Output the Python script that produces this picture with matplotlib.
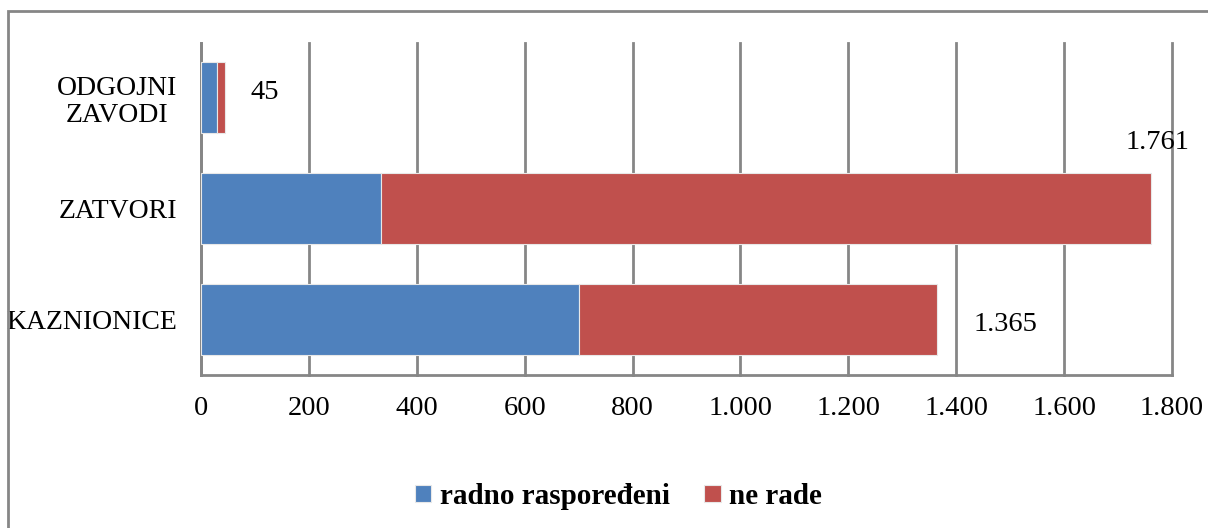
import matplotlib
matplotlib.use("Agg")
import matplotlib.pyplot as plt
from matplotlib.patches import Rectangle
from matplotlib.ticker import FuncFormatter

categories = ["KAZNIONICE", "ZATVORI", "ODGOJNI\nZAVODI"]
radno = [700, 333, 30]
ne_rade = [665, 1428, 15]
totals = [1365, 1761, 45]
series_names = ["radno raspoređeni", "ne rade"]

plt.rcParams["font.family"] = ["Liberation Serif", "DejaVu Serif"]

fig = plt.figure(figsize=(12.08, 5.28), dpi=100)
ax = fig.add_axes([0.1664, 0.2898, 0.9702 - 0.1664, 0.9195 - 0.2898])

y = range(len(categories))
ax.barh(y, radno, height=0.64, color="#4F81BD", edgecolor="#e8e8e8", linewidth=0.8,
        label=series_names[0], zorder=3)
ax.barh(y, ne_rade, left=radno, height=0.64, color="#C0504D", edgecolor="#e8e8e8",
        linewidth=0.8, label=series_names[1], zorder=3)

# total labels next to each bar (offsets in pixels)
offsets = [(36, -5), (-25, 66), (25, 5)]
for i, tot in enumerate(totals):
    lab = "{:,}".format(tot).replace(",", ".")
    ax.annotate(lab, (tot, i), xytext=offsets[i], textcoords="offset pixels",
                ha="left", va="center", fontsize=20.5)

ax.set_xlim(0, 1800)
ax.set_ylim(-0.5, 2.5)
ax.set_xticks(range(0, 1801, 200))
ax.xaxis.set_major_formatter(FuncFormatter(lambda v, p: "{:,}".format(int(v)).replace(",", ".")))
ax.set_yticks(list(y))
ax.set_yticklabels(categories)
ax.tick_params(axis="both", length=0, labelsize=20.5)
ax.tick_params(axis="y", labelsize=20, pad=17)
ax.tick_params(axis="x", pad=15)
for t in ax.get_yticklabels():
    t.set_multialignment("center")
    t.set_linespacing(1.12)

ax.grid(axis="x", color="#868686", linewidth=2, zorder=0)
for g in ax.get_xgridlines():
    g.set_clip_on(False)
for s in ["top", "right"]:
    ax.spines[s].set_visible(False)
for s in ["left", "bottom"]:
    ax.spines[s].set_color("#868686")
    ax.spines[s].set_linewidth(2)

leg = fig.legend(loc="center", bbox_to_anchor=(0.512, 0.06), ncol=2, frameon=False,
                 prop={"size": 21, "weight": "bold"}, handlelength=0.55, handleheight=0.55,
                 handletextpad=0.3, columnspacing=1.2)

# outer frame of the chart area
fig.patches.append(Rectangle((8 / 1208, -0.1), 1.2, 1 - 11.5 / 528 + 0.1,
                             transform=fig.transFigure, fill=False,
                             edgecolor="#868686", linewidth=2))

fig.savefig("out.png", dpi=100)
